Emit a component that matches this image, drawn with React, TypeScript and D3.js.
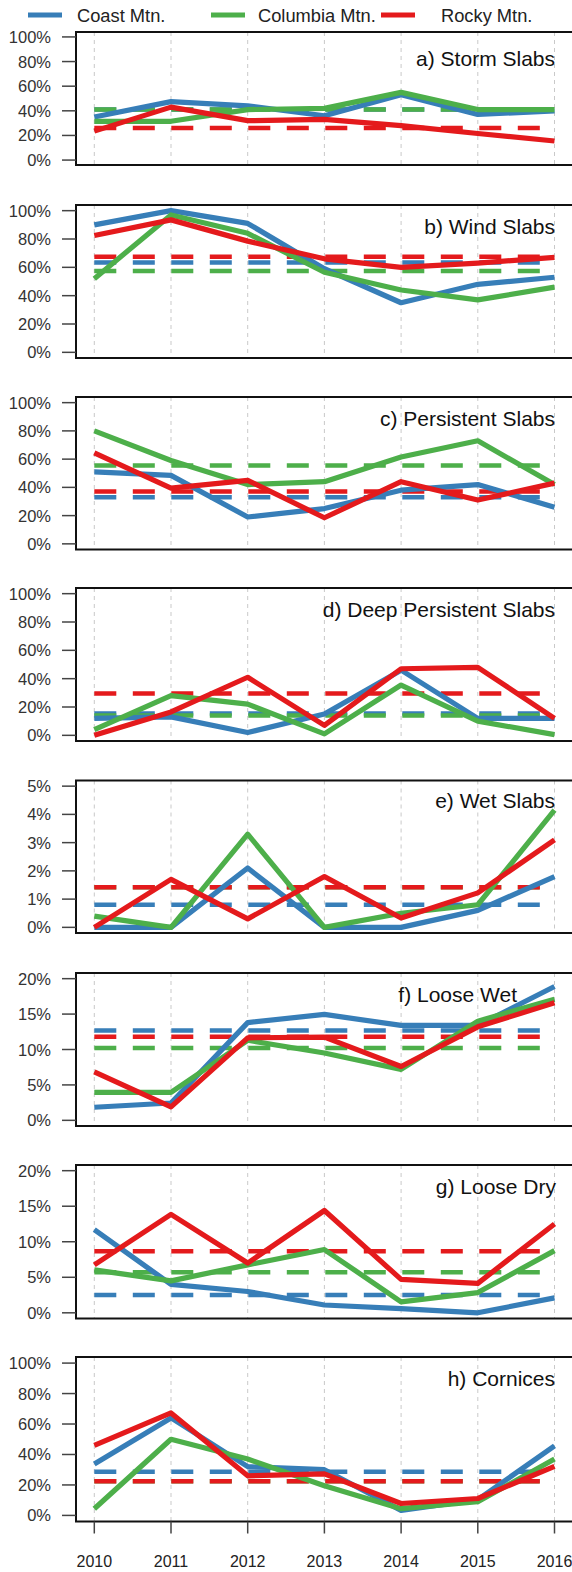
import React from "react";
import * as d3 from "d3";

const years = [2010, 2011, 2012, 2013, 2014, 2015, 2016];
const seriesNames = ["Coast Mtn.", "Columbia Mtn.", "Rocky Mtn."];
const panelTitles = [
  "a) Storm Slabs",
  "b) Wind Slabs",
  "c) Persistent Slabs",
  "d) Deep Persistent Slabs",
  "e) Wet Slabs",
  "f) Loose Wet",
  "g) Loose Dry",
  "h) Cornices",
];
const yMax = [100, 100, 100, 100, 5, 20, 20, 100];
const yStep = [20, 20, 20, 20, 1, 5, 5, 20];

// values in percent
const coastStorm = [35, 47.5, 44, 36, 53, 37, 40];
const columbiaStorm = [31.5, 31.5, 41, 42, 55, 41, 41];
const rockyStorm = [23.5, 43, 32, 33, 28, 21.6, 15.5];
const meanStorm = [41, 41, 26];

const coastWind = [90, 100, 91, 59, 35, 48, 53];
const columbiaWind = [52, 97, 84, 56.5, 44, 37, 46];
const rockyWind = [82.5, 93.5, 78.5, 66, 60, 63, 67];
const meanWind = [63.5, 57.5, 67.5];

const coastPersistent = [51, 48.5, 19, 25, 38, 42, 26];
const columbiaPersistent = [80, 59, 42, 44, 61.5, 73, 42];
const rockyPersistent = [64.5, 39.5, 45, 18.5, 44, 31, 43];
const meanPersistent = [33, 55.5, 37];

const coastDeep = [12, 13, 2, 15, 46, 12, 12];
const columbiaDeep = [4, 28, 22, 1, 35.5, 10, 0.5];
const rockyDeep = [0, 16.5, 41, 7, 47, 48, 12];
const meanDeep = [15.5, 14, 29.5];

const coastWet = [0, 0, 2.1, 0, 0, 0.6, 1.8];
const columbiaWet = [0.4, 0, 3.3, 0, 0.5, 0.8, 4.15];
const rockyWet = [0, 1.7, 0.3, 1.8, 0.33, 1.22, 3.1];
const meanWet = [0.8, 1.42, 1.42];

const coastLooseWet = [1.85, 2.45, 13.8, 14.95, 13.4, 13.4, 18.9];
const columbiaLooseWet = [3.95, 3.95, 11.3, 9.5, 7.2, 14, 17.1];
const rockyLooseWet = [6.85, 1.9, 11.65, 11.75, 7.6, 13.2, 16.6];
const meanLooseWet = [12.7, 10.2, 11.8];

const coastLooseDry = [11.7, 4.0, 3.0, 1.1, 0.6, 0, 2.1];
const columbiaLooseDry = [6.05, 4.5, 6.75, 8.9, 1.55, 2.85, 8.75];
const rockyLooseDry = [6.75, 13.85, 7.0, 14.4, 4.7, 4.15, 12.5];
const meanLooseDry = [2.5, 5.7, 8.65];

const coastCornices = [33.8, 64, 32, 30, 3.3, 10.4, 45.6];
const columbiaCornices = [4.4, 50, 37, 19.5, 4.4, 9, 37];
const rockyCornices = [46, 67.3, 26, 27.3, 7.8, 11.1, 32.2];
const meanCornices = [28.6, 22.5, 22.5];

const panelSeries = [
  [coastStorm, columbiaStorm, rockyStorm],
  [coastWind, columbiaWind, rockyWind],
  [coastPersistent, columbiaPersistent, rockyPersistent],
  [coastDeep, columbiaDeep, rockyDeep],
  [coastWet, columbiaWet, rockyWet],
  [coastLooseWet, columbiaLooseWet, rockyLooseWet],
  [coastLooseDry, columbiaLooseDry, rockyLooseDry],
  [coastCornices, columbiaCornices, rockyCornices],
];
const panelMeans = [
  meanStorm, meanWind, meanPersistent, meanDeep,
  meanWet, meanLooseWet, meanLooseDry, meanCornices,
];

// layout
const W = 572;
const H = 1572;
const colors = ["#377EB8", "#4DAF4A", "#E41A1C"];
const boxLeft = 76;
const boxRight = 574;
const boxes = [
  [32, 165],
  [205, 358],
  [397, 549.5],
  [588, 741],
  [780.5, 933],
  [973, 1126],
  [1165, 1318.5],
  [1357, 1521.5],
];
const titleY = [58, 226, 418, 609, 800, 994, 1186, 1378];
const titleX = [555, 555, 555, 555, 555, 517, 556, 555];
const legendLines = [[28, 62], [211, 245], [381, 415]];
const legendText = [77, 258, 441];

const x = d3.scaleLinear().domain([2010, 2016]).range([94.3, 554.5]);
const font = "'Liberation Sans', Arial, Helvetica, sans-serif";

function Panel({ i }: { i: number }) {
  const [top, bottom] = boxes[i];
  const h = bottom - top;
  const pad = (h * 0.04) / 1.08;
  const y = d3.scaleLinear().domain([0, yMax[i]]).range([bottom - pad, top + pad]);
  const ticks = d3.range(0, yMax[i] + yStep[i] / 2, yStep[i]);
  const line = d3
    .line<number>()
    .x((_, k) => x(years[k]))
    .y((d) => y(d));
  const isLast = i === boxes.length - 1;
  return (
    <g>
      {years.map((yr) => (
        <line
          key={"g" + yr}
          x1={x(yr)}
          x2={x(yr)}
          y1={top}
          y2={bottom}
          stroke="#c9c9c9"
          strokeWidth={1}
          strokeDasharray="4 4"
        />
      ))}
      {panelMeans[i].map((m, s) => (
        <line
          key={"m" + s}
          x1={x(2010)}
          x2={x(2016)}
          y1={y(m)}
          y2={y(m)}
          stroke={colors[s]}
          strokeWidth={4.5}
          strokeDasharray="22 16.5"
        />
      ))}
      {panelSeries[i].map((vals, s) => (
        <path
          key={"s" + s}
          d={line(vals) || ""}
          fill="none"
          stroke={colors[s]}
          strokeWidth={5.2}
          strokeLinejoin="round"
        />
      ))}
      <rect
        x={boxLeft}
        y={top}
        width={boxRight - boxLeft}
        height={h}
        fill="none"
        stroke="#111"
        strokeWidth={2}
      />
      {ticks.map((t) => (
        <g key={"t" + t}>
          <line x1={62} x2={boxLeft} y1={y(t)} y2={y(t)} stroke="#444" strokeWidth={1.5} />
          <text
            x={51}
            y={y(t)}
            textAnchor="end"
            dominantBaseline="central"
            fontSize={16.5}
            fill="#333"
            fontFamily={font}
          >
            {t + "%"}
          </text>
        </g>
      ))}
      <text
        x={titleX[i]}
        y={titleY[i]}
        textAnchor="end"
        dominantBaseline="central"
        fontSize={21}
        fill="#111"
        fontFamily={font}
      >
        {panelTitles[i]}
      </text>
      {isLast &&
        years.map((yr) => (
          <g key={"x" + yr}>
            <line x1={x(yr)} x2={x(yr)} y1={bottom} y2={bottom + 12} stroke="#444" strokeWidth={1.5} />
            <text
              x={x(yr)}
              y={1561}
              textAnchor="middle"
              dominantBaseline="central"
              fontSize={16}
              fill="#222"
              fontFamily={font}
            >
              {yr}
            </text>
          </g>
        ))}
    </g>
  );
}

export default function App() {
  return (
    <svg
      width={W}
      height={H}
      style={{ position: "absolute", left: 0, top: 0, background: "#fff" }}
    >
      <rect width={W} height={H} fill="#fff" />
      {seriesNames.map((name, s) => (
        <g key={name}>
          <line
            x1={legendLines[s][0]}
            x2={legendLines[s][1]}
            y1={15}
            y2={15}
            stroke={colors[s]}
            strokeWidth={5}
          />
          <text
            x={legendText[s]}
            y={15}
            dominantBaseline="central"
            fontSize={18.3}
            fill="#222"
            fontFamily={font}
          >
            {name}
          </text>
        </g>
      ))}
      {panelTitles.map((_, i) => (
        <Panel key={i} i={i} />
      ))}
    </svg>
  );
}
